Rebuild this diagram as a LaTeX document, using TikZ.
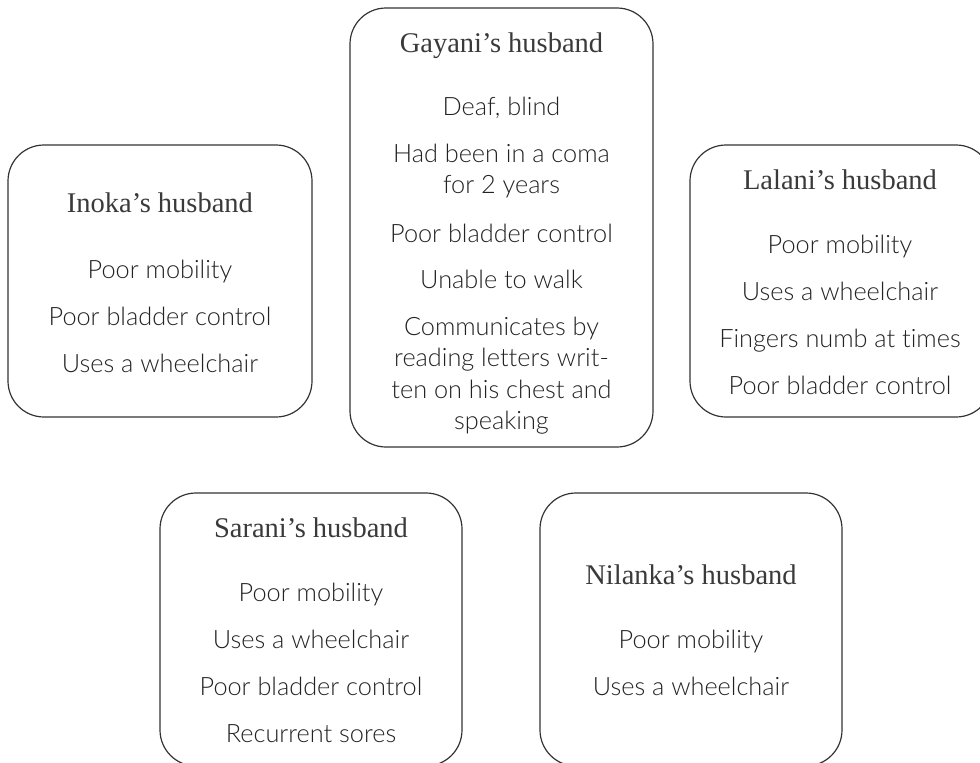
\documentclass[tikz,border=0pt]{standalone}
\usepackage{fontspec}
\setmainfont{Liberation Serif}
\newfontfamily\bodyfont{Lato Light}[Ligatures=NoCommon]
\definecolor{ink}{HTML}{333333}
\definecolor{ttlink}{HTML}{3a3a3a}
\definecolor{itmink}{HTML}{222222}
\tikzset{
  card/.style={draw=ink, line width=1.2pt, rounded corners=36pt, inner sep=0pt, outer sep=0pt},
  ttl/.style={anchor=base, inner sep=0pt, text=ttlink, font=\fontsize{28.5}{30}\selectfont},
  itm/.style={anchor=base, inner sep=0pt, text=itmink, font=\bodyfont\fontsize{25.3}{28}\selectfont},
}
\begin{document}
\begin{tikzpicture}[x=1pt, y=-1pt]
\useasboundingbox (0,0) rectangle (980,763);
% boxes
\node[card, minimum width=304pt, minimum height=272pt] (inoka) at (160,281) {};
\node[card, minimum width=303pt, minimum height=439pt] (gayani) at (501.5,227.5) {};
\node[card, minimum width=302pt, minimum height=272pt] (lalani) at (841,281) {};
\node[card, minimum width=302pt, minimum height=273pt] (sarani) at (311,629.5) {};
\node[card, minimum width=302pt, minimum height=273pt] (nilanka) at (691,629.5) {};
% Inoka
\node[ttl] (inoka-t) at (160,212) {Inoka’s husband};
\node[itm] (inoka-1) at (160,278) {Poor mobility};
\node[itm] (inoka-2) at (160,325) {Poor bladder control};
\node[itm] (inoka-3) at (160,372) {Uses a wheelchair};
% Gayani
\node[ttl] (gayani-t) at (501.5,52) {Gayani’s husband};
\node[itm] (gayani-1) at (501.5,115) {Deaf, blind};
\node[itm] (gayani-2a) at (501.5,162) {Had been in a coma};
\node[itm] (gayani-2b) at (501.5,193.5) {for 2 years};
\node[itm] (gayani-3) at (501.5,242) {Poor bladder control};
\node[itm] (gayani-4) at (501.5,288.5) {Unable to walk};
\node[itm] (gayani-5a) at (501.5,335) {Communicates by};
\node[itm] (gayani-5b) at (501.5,366.5) {reading letters writ-};
\node[itm] (gayani-5c) at (501.5,398) {ten on his chest and};
\node[itm] (gayani-5d) at (501.5,429.5) {speaking};
% Lalani
\node[ttl] (lalani-t) at (840,189) {Lalani’s husband};
\node[itm] (lalani-1) at (840,253) {Poor mobility};
\node[itm] (lalani-2) at (840,300) {Uses a wheelchair};
\node[itm] (lalani-3) at (840,347) {Fingers numb at times};
\node[itm] (lalani-4) at (840,394) {Poor bladder control};
% Sarani
\node[ttl] (sarani-t) at (311,537) {Sarani’s husband};
\node[itm] (sarani-1) at (311,601) {Poor mobility};
\node[itm] (sarani-2) at (311,648) {Uses a wheelchair};
\node[itm] (sarani-3) at (311,695) {Poor bladder control};
\node[itm] (sarani-4) at (311,742) {Recurrent sores};
% Nilanka
\node[ttl] (nilanka-t) at (691,584) {Nilanka’s husband};
\node[itm] (nilanka-1) at (691,648) {Poor mobility};
\node[itm] (nilanka-2) at (691,695) {Uses a wheelchair};
\end{tikzpicture}
\end{document}
